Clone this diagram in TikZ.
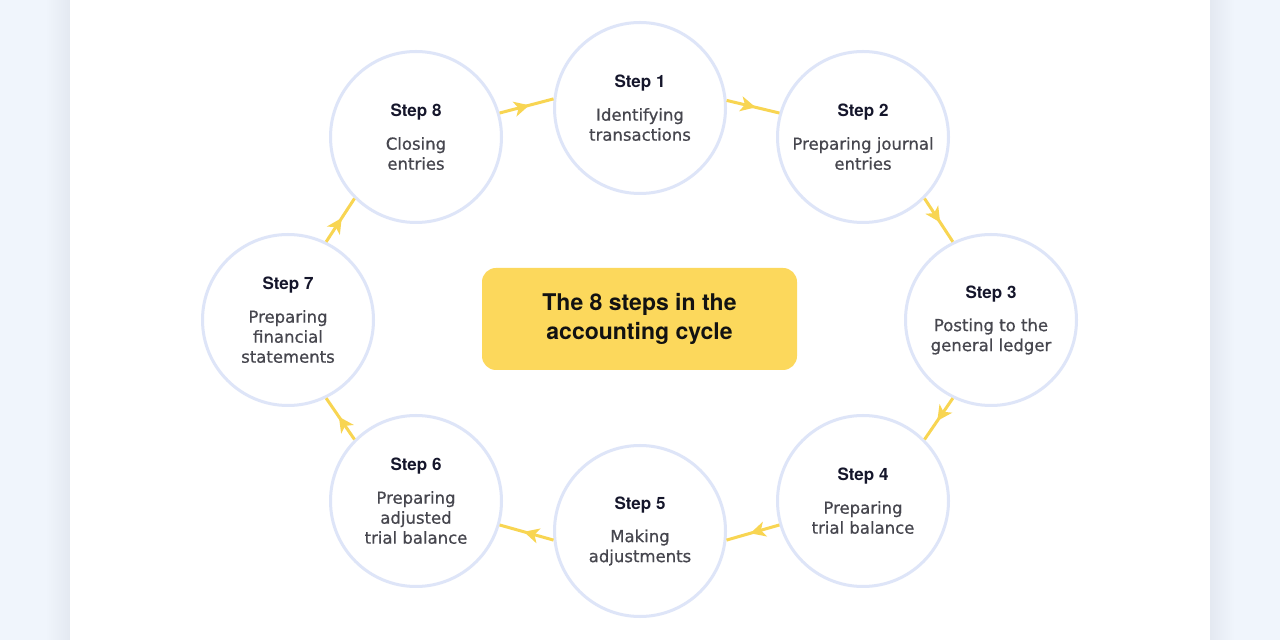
\documentclass[tikz,border=0pt]{standalone}
\usepackage{fontspec}
\setmainfont{DejaVu Sans}[FakeBold=0.7]
\newfontfamily\heros{TeX Gyre Heros}
\usetikzlibrary{arrows.meta,decorations.markings}
\definecolor{bgc}{HTML}{F0F5FC}
\definecolor{shc}{HTML}{E4E9F1}
\definecolor{ringc}{HTML}{DEE5F8}
\definecolor{ay}{HTML}{F8D552}
\definecolor{boxy}{HTML}{FCD85C}
\definecolor{navy}{HTML}{15162B}
\definecolor{bodyg}{HTML}{46464E}
\definecolor{titc}{HTML}{121212}
\newcommand{\stepl}[1]{{\heros\bfseries\fontsize{17}{20}\selectfont\color{navy}#1}}
\tikzset{
  stepc/.style={circle, draw=ringc, line width=3pt, fill=white, minimum size=171pt,
    inner sep=0pt, align=center, text=bodyg, font=\fontsize{16.5}{20}\selectfont},
  arr/.style={draw=ay, line width=3pt, postaction={decorate},
    decoration={markings, mark=at position 0.55 with {\arrow[ay]{Stealth[length=15pt,width=15pt,inset=4pt]}}}},
  titbox/.style={rectangle, rounded corners=14pt, fill=boxy, minimum width=315pt,
    minimum height=102pt, align=center, text=titc,
    font=\heros\bfseries\fontsize{23}{29}\selectfont}
}
\begin{document}
\begin{tikzpicture}[x=1pt,y=1pt]
\useasboundingbox (0,0) rectangle (1280,640);
\fill[bgc] (0,0) rectangle (1280,640);
\shade[left color=bgc, right color=shc] (45,0) rectangle (70,640);
\shade[left color=shc, right color=bgc] (1210,0) rectangle (1235,640);
\fill[white] (70,0) rectangle (1210,640);

\node[titbox] (t) at (639.5,321) {The 8 steps in the\\accounting cycle};

\node[stepc] (s1) at (640,532) {\stepl{Step 1}\\[13pt]Identifying\\transactions};
\node[stepc] (s2) at (863,503) {\stepl{Step 2}\\[13pt]Preparing journal\\entries};
\node[stepc] (s3) at (991,320) {\stepl{Step 3}\\[13pt]Posting to the\\general ledger};
\node[stepc] (s4) at (863,139) {\stepl{Step 4}\\[13pt]Preparing\\trial balance};
\node[stepc] (s5) at (640,109) {\stepl{Step 5}\\[13pt]Making\\adjustments};
\node[stepc] (s6) at (416,139) {\stepl{Step 6}\\[13pt]Preparing\\adjusted\\trial balance};
\node[stepc] (s7) at (288,320) {\stepl{Step 7}\\[13pt]Preparing\\financial\\statements};
\node[stepc] (s8) at (416,503) {\stepl{Step 8}\\[13pt]Closing\\entries};

\draw[arr] (s1.5) -- (s2.164);
\draw[arr] (s2.-45) -- (s3.116);
\draw[arr] (s3.-116) -- (s4.45);
\draw[arr] (s4.196) -- (s5.-6);
\draw[arr] (s5.186) -- (s6.-16);
\draw[arr] (s6.135) -- (s7.-64);
\draw[arr] (s7.64) -- (s8.-135);
\draw[arr] (s8.16) -- (s1.174);
\end{tikzpicture}
\end{document}
